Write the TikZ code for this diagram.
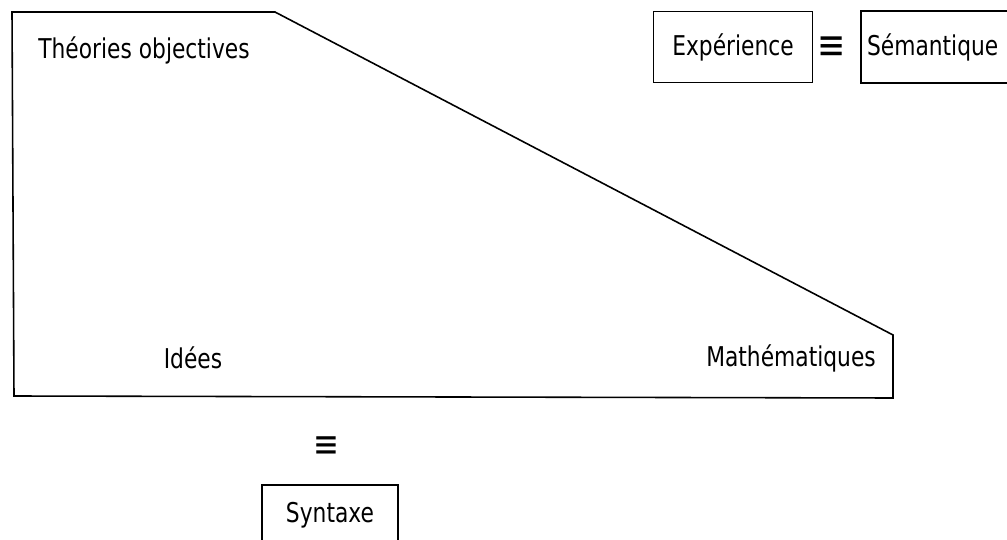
\documentclass[tikz,border=0pt]{standalone}
\usepackage{fontspec}
\setmainfont{DejaVu Sans}[FakeStretch=0.8]
\usetikzlibrary{positioning}
\tikzset{
  lbl/.style={font=\fontsize{15.5}{18}\selectfont, inner sep=0pt},
  boxlbl/.style={lbl, draw, line width=0.9pt, inner sep=0pt},
  eqv/.style={font=\fontsize{24}{26}\selectfont, inner sep=0pt},
}

\begin{document}
\begin{tikzpicture}[x=0.02cm, y=-0.02cm, line width=0.9pt]
\useasboundingbox (0,0) rectangle (1007,540);
\clip (0,0) rectangle (1007,540);
% theory block
\draw (12,12) -- (275,12) -- (893,335) -- (893,398) -- (14,396) -- cycle;
\node[lbl] (theo) at (144,50) {Théories objectives};
\node[lbl] (idees) at (193,358) {Idées};
\node[lbl] (math) at (791,358) {Mathématiques};
% experience side
\node[boxlbl, minimum width=3.18cm, minimum height=1.42cm] (exp) at (733,47) {Expérience};
\node[eqv] (eqa) at (832,48) {≡};
\node[lbl, inner xsep=3pt, minimum height=1.4cm, anchor=west] (sem) at (861,47) {Sémantique};
\draw (sem.north west) ++(200,0) -- (sem.north west) -- (sem.south west) -- ++(200,0);
% syntax side
\node[eqv, font=\fontsize{22}{24}\selectfont] (eqb) at (326,447) {≡};
\node[boxlbl, minimum width=2.72cm, minimum height=1.2cm] (syn) at (330,515) {Syntaxe};
\end{tikzpicture}
\end{document}
